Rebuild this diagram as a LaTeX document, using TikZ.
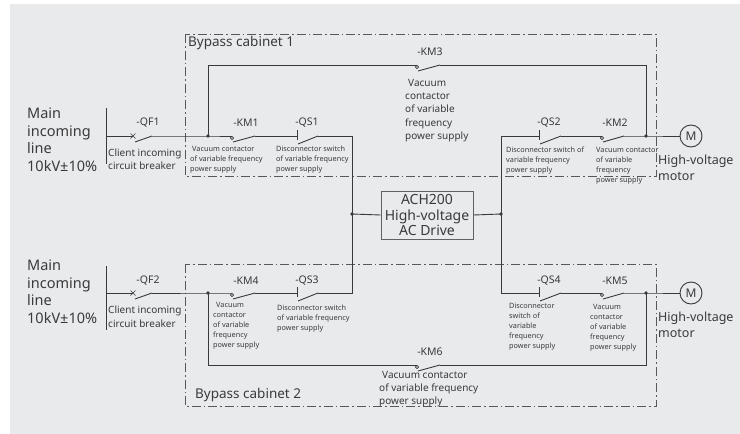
\documentclass[tikz,border=0pt]{standalone}
\usepackage{fontspec}
\setmainfont{Noto Sans}
\definecolor{bgcol}{HTML}{E9EAEC}
\definecolor{inkcol}{HTML}{3A3A3A}

\begin{document}
\begin{tikzpicture}[x=1pt,y=-1pt,
	wire/.style={draw=inkcol,line width=0.9pt},
	cabinet/.style={draw=inkcol!85,line width=0.8pt,dash pattern=on 9pt off 3pt on 1.5pt off 3pt},
	junction/.style={circle,fill=inkcol,inner sep=0pt,minimum size=3.8pt},
	swtag/.style={text=inkcol,inner sep=0pt,font=\fontsize{10.5}{12}\selectfont},
	heading/.style={text=inkcol,inner sep=0pt,anchor=west,align=left},
	swnote/.style={heading,font=\fontsize{7.3}{10}\selectfont},
	bignote/.style={heading,font=\fontsize{10}{13.3}\selectfont},
	motor/.style={circle,draw=inkcol,line width=0.9pt,minimum size=22pt,inner sep=0pt,text=inkcol,font=\fontsize{12}{14}\selectfont}]
	\useasboundingbox (0,0) rectangle (740,434);
	\fill[bgcol] (10,4) rectangle (740,434);

	\draw[cabinet] (185,34) rectangle (656,176);
	\draw[cabinet] (185,264) rectangle (656,406);
	\node[heading,font=\fontsize{13.5}{16}\selectfont] (cab1-title) at (188,43) {Bypass cabinet 1};
	\node[heading,font=\fontsize{13.5}{16}\selectfont] (cab2-title) at (195,395) {Bypass cabinet 2};

	% line 1
	\coordinate (in1) at (106,136);
	\coordinate (qf1) at (133,136); \coordinate (qf1-r) at (152,136);
	\coordinate (j1) at (208,136);
	\coordinate (km1) at (232,136); \coordinate (km1-r) at (255,136);
	\coordinate (qs1) at (297,136); \coordinate (qs1-r) at (318,136);
	\coordinate (c1) at (352,136);
	\coordinate (dl) at (352,214);
	\coordinate (dr) at (501,214);
	\coordinate (c3) at (501,136);
	\coordinate (qs2) at (539,136); \coordinate (qs2-r) at (561,136);
	\coordinate (km2) at (602,136); \coordinate (km2-r) at (624,136);
	\coordinate (j3) at (646,136);
	\coordinate (b1) at (208,65);
	\coordinate (km3) at (417,65); \coordinate (km3-r) at (440,65);
	\coordinate (b2) at (646,65);
	% line 2
	\coordinate (in2) at (106,293);
	\coordinate (qf2) at (133,293); \coordinate (qf2-r) at (152,293);
	\coordinate (j2) at (208,293);
	\coordinate (km4) at (232,293); \coordinate (km4-r) at (255,293);
	\coordinate (qs3) at (297,293); \coordinate (qs3-r) at (318,293);
	\coordinate (c2) at (352,293);
	\coordinate (c4) at (501,293);
	\coordinate (qs4) at (539,293); \coordinate (qs4-r) at (561,293);
	\coordinate (km5) at (602,293); \coordinate (km5-r) at (624,293);
	\coordinate (j4) at (646,293);
	\coordinate (b3) at (208,365);
	\coordinate (km6) at (417,365); \coordinate (km6-r) at (440,365);
	\coordinate (b4) at (646,365);

	\node[draw=inkcol!80,line width=0.9pt,minimum width=92pt,minimum height=48pt,align=center,inner sep=0pt,text=inkcol,font=\fontsize{14}{15.5}\selectfont] (drive) at (427,215) {ACH200\\High-voltage\\AC Drive};
	\node[motor] (motor1) at (691,136) {M};
	\node[motor] (motor2) at (691,293) {M};

	\draw[wire] (106,108) -- (106,164);
	\draw[wire] (106,266) -- (106,330);
	\draw[wire] (in1) -- (qf1) (qf1-r) -- (j1) -- (km1) (km1-r) -- (qs1) (qs1-r) -- (c1) -- (c2) -- (qs3-r) (qs3) -- (km4-r) (km4) -- (j2) -- (qf2-r) (qf2) -- (in2);
	\draw[wire] (j1) -- (b1) -- (km3) (km3-r) -- (b2) -- (j3);
	\draw[wire] (j2) -- (b3) -- (km6) (km6-r) -- (b4) -- (j4);
	\draw[wire] (dl) -- (drive.west) (drive.east) -- (dr);
	\draw[wire] (c3) -- (qs2) (qs2-r) -- (km2) (km2-r) -- (j3) -- (motor1);
	\draw[wire] (c3) -- (c4) -- (qs4) (qs4-r) -- (km5) (km5-r) -- (j4) -- (motor2);

	\foreach \s in {qf1,qf2}{
		\draw[wire,line width=0.7pt] (\s) ++(-2.5,-2.5) -- ++(5,5) ++(0,-5) -- ++(-5,5);
		\draw[wire] (\s) ++(2,6) -- (\s-r);
	}
	\foreach \s in {km1,km2,km3,km4,km5,km6}{
		\draw[wire,line width=0.7pt] (\s) ++(0,2) circle[radius=1.7];
		\draw[wire] (\s) ++(1,6) -- (\s-r);
	}
	\foreach \s in {qs1,qs2,qs3,qs4}{
		\draw[wire] (\s) ++(0,-6) -- ++(0,10);
		\draw[wire] (\s) ++(1,8) -- (\s-r);
	}
	\foreach \j in {j1,j2,j3,j4,dl,dr}
		\node[junction] (\j-dot) at (\j) {};

	\node[heading,font=\fontsize{14.5}{17.5}\selectfont] (main1) at (27,139.5) {Main\\incoming\\line\\10kV±10\%};
	\node[heading,font=\fontsize{14.5}{17.5}\selectfont] (main2) at (27,291.5) {Main\\incoming\\line\\10kV±10\%};

	\node[swtag] (qf1-tag) at (148,123) {-QF1};
	\node[swtag] (km1-tag) at (246,123) {-KM1};
	\node[swtag] (qs1-tag) at (307,123) {-QS1};
	\node[swtag] (km3-tag) at (430,52) {-KM3};
	\node[swtag] (qs2-tag) at (549,123) {-QS2};
	\node[swtag] (km2-tag) at (615,123) {-KM2};
	\node[swtag] (qf2-tag) at (148,281) {-QF2};
	\node[swtag] (km4-tag) at (246,281) {-KM4};
	\node[swtag] (qs3-tag) at (307,281) {-QS3};
	\node[swtag] (qs4-tag) at (549,281) {-QS4};
	\node[swtag] (km5-tag) at (615,281) {-KM5};
	\node[swtag] (km6-tag) at (430,352) {-KM6};

	\node[heading,font=\fontsize{10}{13.5}\selectfont] (qf1-note) at (108,159) {Client incoming\\circuit breaker};
	\node[swnote] (km1-note) at (190,160) {\hspace*{2pt}Vacuum contactor\\of variable frequency\\power supply};
	\node[swnote] (qs1-note) at (276,160) {Disconnector switch\\of variable frequency\\power supply};
	\node[bignote] (km3-note) at (405,110.5) {\hspace*{3pt}Vacuum\\contactor\\of variable\\frequency\\power supply};
	\node[swnote] (qs2-note) at (506,161) {Disconnector switch of\\variable frequency\\power supply};
	\node[swnote] (km2-note) at (596,166) {Vacuum contactor\\of variable\\frequency\\power supply};
	\node[heading,font=\fontsize{10}{13.5}\selectfont] (qf2-note) at (108,316.5) {Client incoming\\circuit breaker};
	\node[swnote] (km4-note) at (213,326) {\hspace*{3pt}Vacuum\\contactor\\of variable\\frequency\\power supply};
	\node[swnote] (qs3-note) at (277,319) {Disconnector switch\\of variable frequency\\power supply};
	\node[swnote] (qs4-note) at (509,327) {Disconnector\\switch of\\variable\\frequency\\power supply};
	\node[swnote] (km5-note) at (590,328) {\hspace*{3pt}Vacuum\\contactor\\of variable\\frequency\\power supply};
	\node[bignote] (km6-note) at (379,389) {\hspace*{3pt}Vacuum contactor\\of variable frequency\\power supply};

	\node[heading,font=\fontsize{12.5}{16}\selectfont] (motor1-note) at (658,168) {High-voltage\\motor};
	\node[heading,font=\fontsize{12.5}{16}\selectfont] (motor2-note) at (658,324.5) {High-voltage\\motor};
\end{tikzpicture}
\end{document}
